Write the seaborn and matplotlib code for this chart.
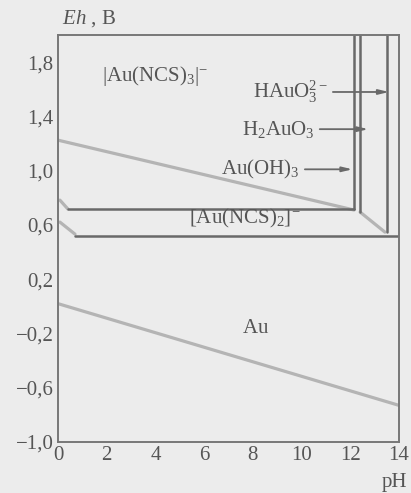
import numpy as np
import matplotlib
matplotlib.use("Agg")
import matplotlib.pyplot as plt
import seaborn as sns

# limites de los ejes
ph_lim = [0, 14]
eh_lim = [-1.0, 2.0]
x_ticks = [0, 2, 4, 6, 8, 10, 12, 14]
y_ticks = [-1.0, -0.6, -0.2, 0.2, 0.6, 1.0, 1.4, 1.8]

# lineas del agua (grises, difusas)
ph_water_up = [0, 12.15]
eh_water_up = [1.225, 0.71]
ph_water_dn = [0, 14]
eh_water_dn = [0.02, -0.73]
ph_slope_a = [0.08, 0.41]
eh_slope_a = [0.783, 0.717]
ph_slope_b = [0.08, 0.70]
eh_slope_b = [0.621, 0.532]
ph_slope_c = [12.4, 13.42]
eh_slope_c = [0.695, 0.547]

# fronteras de las especies
ph_ncs2_top = [0.41, 12.15]
eh_ncs2_top = [0.717, 0.717]
ph_ncs2_bot = [0.70, 14]
eh_ncs2_bot = [0.52, 0.52]
ph_vert = [12.15, 12.4, 13.5]
eh_vert_low = [0.717, 0.695, 0.547]

# etiquetas
region_labels = [r"$|\mathrm{Au(NCS)_3}|^{-}$", r"$[\mathrm{Au(NCS)_2}]^{-}$", r"$\mathrm{Au}$"]
region_ph = [4.0, 7.65, 8.1]
region_eh = [1.70, 0.645, -0.16]

arrow_labels = [r"$\mathrm{HAuO_3^{2-}}$", r"$\mathrm{H_2AuO_3}$", r"$\mathrm{Au(OH)_3}$"]
arrow_ph_start = [11.17, 10.63, 10.02]
arrow_ph_end = [13.7, 12.85, 12.2]
arrow_eh = [1.58, 1.306, 1.01]

bg = "#ececec"
ink = "#555555"
line_dark = "#696969"
line_soft = "#b4b4b4"

sns.set_theme(style="white")
plt.rcParams["font.family"] = ["Liberation Serif", "DejaVu Serif"]
plt.rcParams["mathtext.fontset"] = "custom"
plt.rcParams["mathtext.rm"] = "Liberation Serif"
plt.rcParams["mathtext.it"] = "Liberation Serif:italic"
plt.rcParams["axes.unicode_minus"] = True

fig = plt.figure(figsize=(4.11, 4.93), dpi=100, facecolor=bg)
ax = fig.add_axes([0.141, 0.1034, 0.830, 0.8256])
ax.set_facecolor(bg)

# lineas grises
for xs, ys in [(ph_water_up, eh_water_up), (ph_water_dn, eh_water_dn),
               (ph_slope_a, eh_slope_a), (ph_slope_b, eh_slope_b),
               (ph_slope_c, eh_slope_c)]:
    sns.lineplot(x=xs, y=ys, ax=ax, color=line_soft, lw=2.3, sort=False,
                 estimator=None, solid_capstyle="round")

# fronteras
for xs, ys in [(ph_ncs2_top, eh_ncs2_top), (ph_ncs2_bot, eh_ncs2_bot)]:
    sns.lineplot(x=xs, y=ys, ax=ax, color=line_dark, lw=1.8, sort=False, estimator=None)
for p, e in zip(ph_vert, eh_vert_low):
    sns.lineplot(x=[p, p], y=[eh_lim[1], e], ax=ax, color=line_dark, lw=1.8,
                 sort=False, estimator=None)

for lab, p, e in zip(region_labels, region_ph, region_eh):
    ax.text(p, e, lab, ha="center", va="center", fontsize=15, color=ink)

for lab, p0, p1, e in zip(arrow_labels, arrow_ph_start, arrow_ph_end, arrow_eh):
    ax.text(p0 - 0.1, e, lab, ha="right", va="center", fontsize=15, color=ink)
    ax.annotate("", xy=(p1, e), xytext=(p0, e),
                arrowprops=dict(arrowstyle="-|>,head_length=0.5,head_width=0.12",
                                color=line_dark, lw=1.3))

ax.set_xlim(ph_lim)
ax.set_ylim(eh_lim)
ax.set_xticks(x_ticks)
ax.set_yticks(y_ticks)
ax.set_xticklabels([str(t) for t in x_ticks])
ax.set_yticklabels([f"{t:.1f}".replace(".", ",").replace("-", "\u2212") for t in y_ticks])
ax.tick_params(axis="both", length=0, labelsize=15, labelcolor=ink, pad=3)
for s in ax.spines.values():
    s.set_color("#777777")
    s.set_linewidth(1.4)
ax.set_xlabel("")
ax.set_ylabel("")

fig.text(0.151, 0.962, r"$\mathit{Eh}$ , B", fontsize=15, color=ink, va="center", ha="left")
fig.text(0.96, 0.022, "pH", fontsize=15, color=ink, va="center", ha="center")

fig.savefig("out.png", dpi=100, facecolor=bg)
